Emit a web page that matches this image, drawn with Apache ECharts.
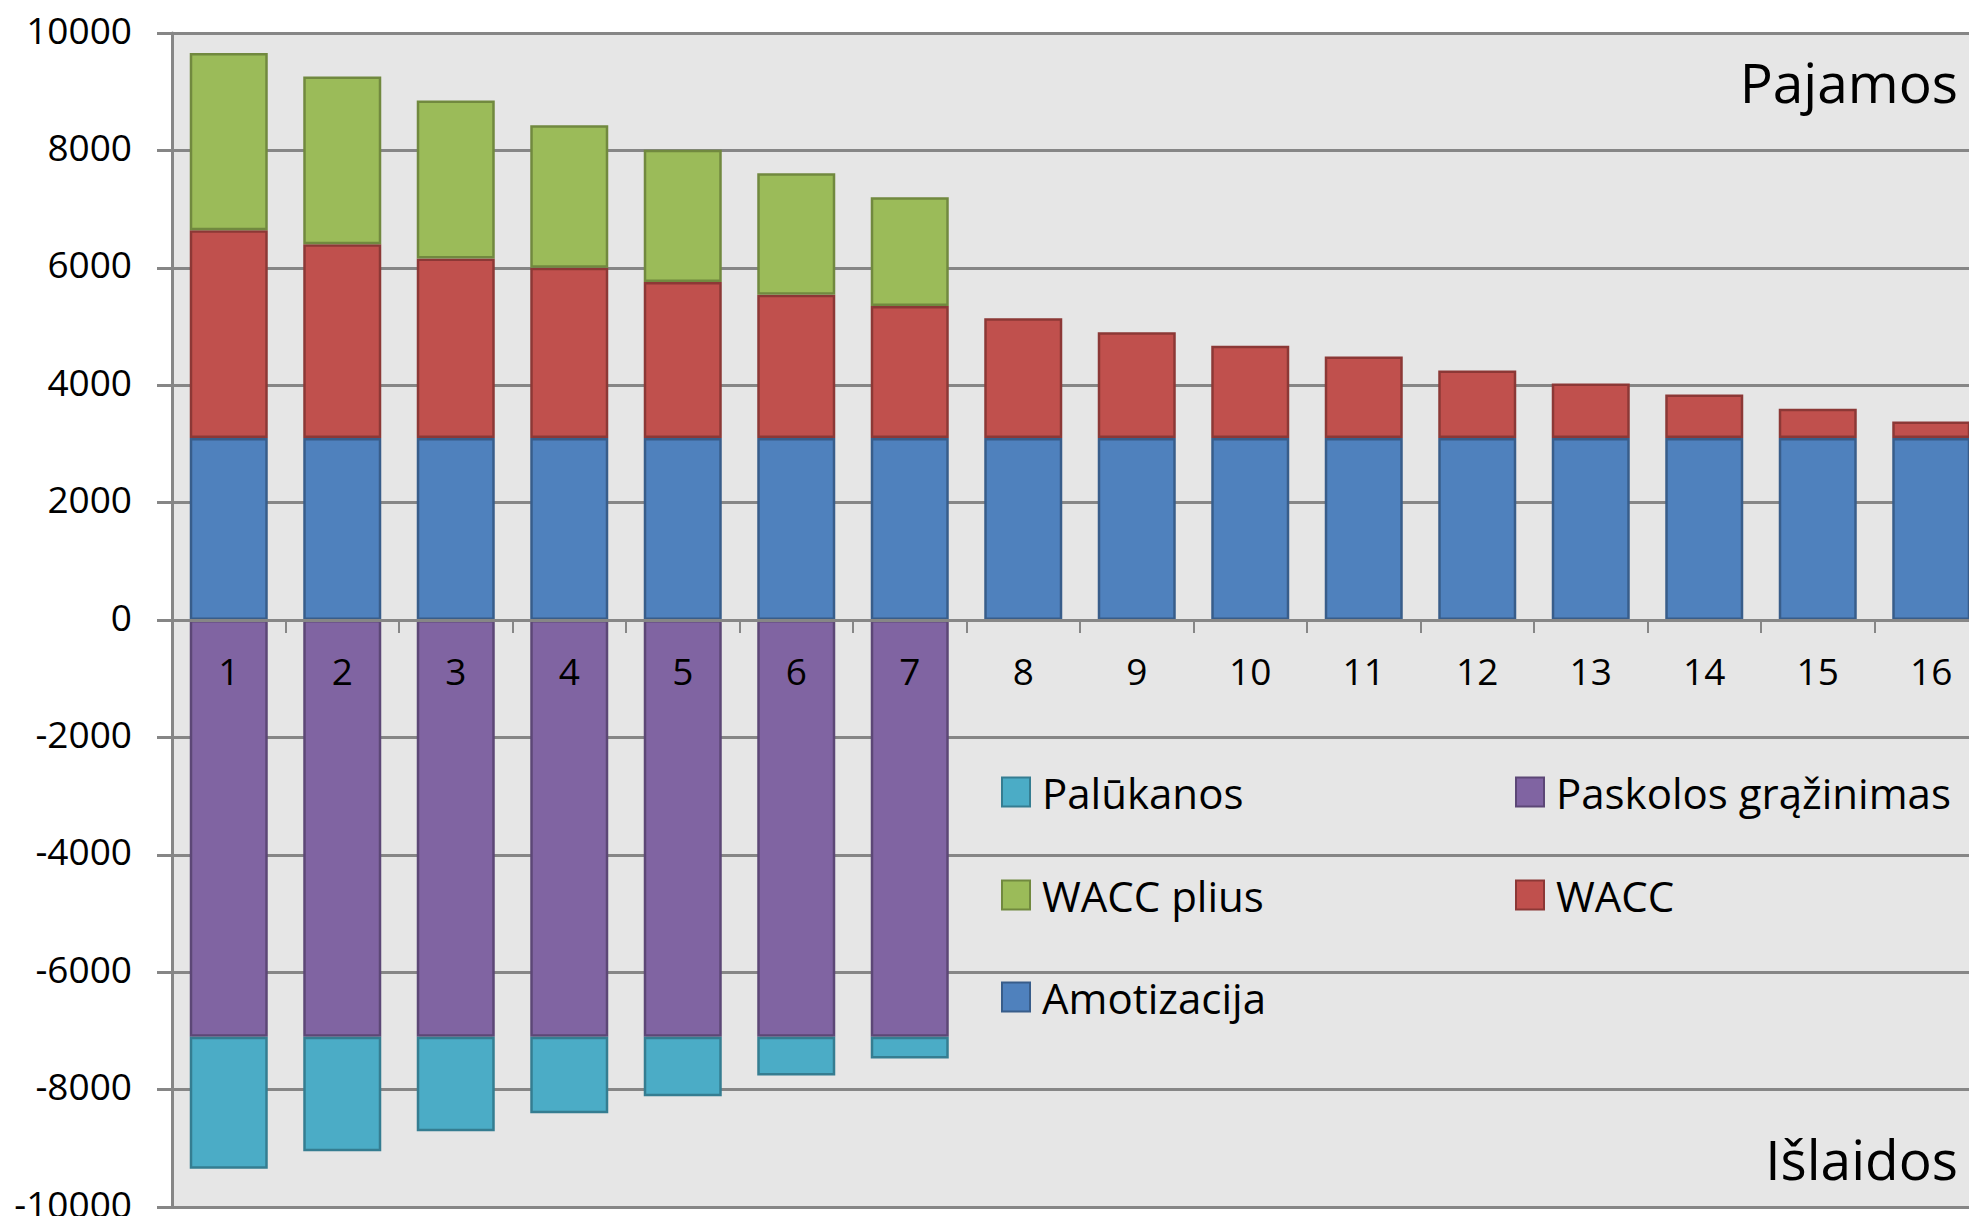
<!DOCTYPE html>
<html>
<head>
<meta charset="utf-8">
<script src="https://cdn.jsdelivr.net/npm/echarts@6/dist/echarts.min.js"></script>
<style>
  html, body { margin: 0; padding: 0; background: #fff; }
  #chart { width: 1969px; height: 1216px; }
</style>
</head>
<body>
<div id="chart"></div>
<script>
// laikotarpiai (metai)
var categories = ['1','2','3','4','5','6','7','8','9','10','11','12','13','14','15','16'];

// pajamos (teigiama pusė)
var amotizacija = [3100,3100,3100,3100,3100,3100,3100,3100,3100,3100,3100,3100,3100,3100,3100,3100];
var wacc        = [3540,3300,3060,2900,2660,2440,2250,2040,1800,1570,1390,1150,930,740,500,280];
var waccPlius   = [3020,2860,2690,2430,2250,2070,1850,'-','-','-','-','-','-','-','-','-'];

// išlaidos (neigiama pusė)
var paskolos  = [-7100,-7100,-7100,-7100,-7100,-7100,-7100,'-','-','-','-','-','-','-','-','-'];
var palukanos = [-2250,-1950,-1610,-1305,-1015,-660,-370,'-','-','-','-','-','-','-','-','-'];

var yTicks = { min: -10000, max: 10000, interval: 2000 };

var legendOrder = ['Palūkanos', 'Paskolos grąžinimas', 'WACC plius', 'WACC', 'Amotizacija'];

var font = '"Open Sans", "Noto Sans", sans-serif';
var gridGray = '#868686';

var gridTop = 33, gridBottom = 9, chartH = 1216;
// nulio linijos vieta: x ašį pakeliam nuo apačios iki 0
var plotH = chartH - gridTop - gridBottom;
var zeroShift = plotH * (0 - yTicks.min) / (yTicks.max - yTicks.min);

var chart = echarts.init(document.getElementById('chart'), null, { renderer: 'svg' });

function bar(name, data, color, border) {
    return {
        name: name,
        type: 'bar',
        stack: 'viso',
        barWidth: 78,
        data: data,
        itemStyle: { color: color, borderColor: border, borderWidth: 2.5 }
    };
}

// legenda dviem stulpeliais - kiekvienas įrašas atskirai
var legendPos = [
    { left: 1001, top: 771 },
    { left: 1515, top: 771 },
    { left: 1001, top: 874 },
    { left: 1515, top: 874 },
    { left: 1001, top: 976 }
];
var legends = legendOrder.map(function (n, i) {
    return {
        data: [n],
        left: legendPos[i].left,
        top: legendPos[i].top,
        padding: 0,
        itemWidth: 28,
        itemHeight: 29,
        icon: 'rect',
        selectedMode: false,
        textStyle: { fontSize: 42, fontFamily: font, color: '#000', padding: [0, 0, 0, 7] }
    };
});

var option = {
    backgroundColor: '#fff',
    animation: false,
    title: [
        { text: 'Pajamos', right: 11, top: 54, padding: 0,
          textStyle: { fontSize: 55, fontWeight: 'normal', fontFamily: font, color: '#000' } },
        { text: 'Išlaidos', right: 11, top: 1131, padding: 0,
          textStyle: { fontSize: 55, fontWeight: 'normal', fontFamily: font, color: '#000' } }
    ],
    legend: legends,
    grid: {
        left: 172,
        top: gridTop,
        width: 1816,
        bottom: gridBottom,
        containLabel: false,
        outerBoundsMode: 'none',
        show: true,
        backgroundColor: '#e6e6e6',
        borderWidth: 0
    },
    xAxis: {
        type: 'category',
        data: categories,
        position: 'bottom',
        offset: -zeroShift,
        z: 5,
        axisLine: { show: true, onZero: false, lineStyle: { color: gridGray, width: 3 } },
        axisTick: { show: true, length: 13, lineStyle: { color: gridGray, width: 2 } },
        axisLabel: { margin: 32, fontSize: 37, fontFamily: font, color: '#000', hideOverlap: false },
        splitLine: { show: false }
    },
    yAxis: {
        type: 'value',
        min: yTicks.min,
        max: yTicks.max,
        interval: yTicks.interval,
        axisLine: { show: true, lineStyle: { color: gridGray, width: 3 } },
        axisTick: { show: true, length: 15, lineStyle: { color: gridGray, width: 3 } },
        axisLabel: {
            margin: 40, fontSize: 37, fontFamily: font, color: '#000',
            lineHeight: 8, verticalAlign: 'bottom',
            formatter: function (v) { return String(v); }
        },
        splitLine: { show: true, lineStyle: { color: gridGray, width: 3 } }
    },
    series: [
        bar('Amotizacija', amotizacija, '#4f81bd', '#385d8a'),
        bar('WACC', wacc, '#c0504d', '#8c3836'),
        bar('WACC plius', waccPlius, '#9bbb59', '#71893f'),
        bar('Paskolos grąžinimas', paskolos, '#8064a2', '#5c4776'),
        bar('Palūkanos', palukanos, '#4bacc6', '#357d91')
    ]
};

chart.setOption(option);
</script>
</body>
</html>
